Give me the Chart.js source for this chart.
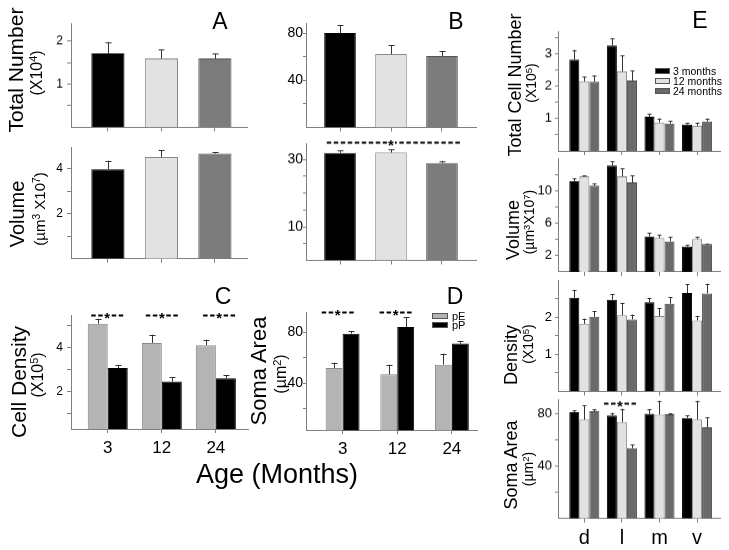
<!DOCTYPE html>
<html><head><meta charset="utf-8">
<script src="https://cdn.jsdelivr.net/npm/chart.js@4.4.1/dist/chart.umd.min.js"></script>
<style>
html,body{margin:0;padding:0;background:#fff;}
#fig{position:relative;width:729px;height:550px;overflow:hidden;font-family:'Liberation Sans',Arial,sans-serif;color:#000;}
.pan{position:absolute;z-index:1;}
.t{position:absolute;white-space:nowrap;line-height:1;transform:translate(-50%,-50%);z-index:2;}
.r{transform:translate(-50%,-50%) rotate(-90deg);}
.t sup{font-size:0.68em;vertical-align:0.45em;line-height:0;}
.lg{position:absolute;z-index:2;box-sizing:border-box;border:1px solid #555;}
</style></head>
<body><div id="fig"></div>
<script>
// ---------------- data ----------------
const ages = ['3', '12', '24'];
const regions = ['d', 'l', 'm', 'v'];
const seriesCD = ['pE', 'pP'];
const seriesE = ['3 months', '12 months', '24 months'];

// Panel A
const totalNumber = [1.72, 1.60, 1.60];
const totalNumberErr = [0.26, 0.21, 0.12];
const volumeA = [3.97, 4.51, 4.66];
const volumeAErr = [0.37, 0.29, 0.06];
// Panel B
const valuesBTop = [80, 62.2, 60.5];
const valuesBTopErr = [6.5, 7.6, 4.2];
const valuesBBottom = [31.9, 32.0, 28.9];
const valuesBBottomErr = [0.8, 1.0, 0.6];
// Panel C
const densityPE = [5.10, 4.22, 4.12];
const densityPEErr = [0.23, 0.38, 0.25];
const densityPP = [3.07, 2.45, 2.60];
const densityPPErr = [0.15, 0.20, 0.13];
// Panel D
const somaPE = [51.8, 46.8, 54.4];
const somaPEErr = [4.2, 7.6, 8.6];
const somaPP = [78.7, 83.9, 70.9];
const somaPPErr = [2.1, 7.9, 2.1];
// Panel E (rows: 3, 12, 24 months; columns: d, l, m, v)
const cellNumberE = [[2.82, 3.26, 1.06, 0.82], [2.15, 2.46, 0.88, 0.78], [2.14, 2.18, 0.85, 0.91]];
const cellNumberEErr = [[0.30, 0.22, 0.09, 0.04], [0.15, 0.49, 0.13, 0.08], [0.18, 0.30, 0.08, 0.09]];
const volumeE = [[11.23, 13.2, 4.4, 3.15], [11.85, 11.85, 4.2, 4.07], [10.7, 11.1, 3.78, 3.45]];
const volumeEErr = [[0.37, 0.5, 0.4, 0.21], [0.12, 0.95, 0.4, 0.23], [0.25, 0.87, 0.52, 0.05]];
const densityE = [[2.52, 2.47, 2.40, 2.65], [1.82, 2.05, 2.03, 1.91], [2.01, 1.94, 2.36, 2.64]];
const densityEErr = [[0.20, 0.14, 0.12, 0.23], [0.14, 0.34, 0.22, 0.12], [0.15, 0.13, 0.18, 0.26]];
const somaE = [[81, 78.5, 79.8, 76.7], [75.4, 73.5, 79.2, 75.4], [81.8, 53.6, 79.5, 69.5]];
const somaEErr = [[1.5, 2.0, 3.2, 1.8], [10.8, 10.1, 10.6, 14.4], [1.2, 2.6, 0.5, 7.7]];

// Tick values and which of them carry labels
const ticksA1 = [0.5, 1, 1.5, 2], labelsA1 = [1, 2];
const ticksA2 = [1, 2, 3, 4], labelsA2 = [2, 4];
const ticksB1 = [20, 40, 60, 80], labelsB1 = [40, 80];
const ticksB2 = [5, 10, 15, 20, 25, 30], labelsB2 = [10, 30];
const ticksC = [1, 2, 3, 4, 5], labelsC = [2, 4];
const ticksD = [20, 40, 60, 80], labelsD = [40, 80];
const ticksE1 = [0.5, 1, 1.5, 2, 2.5, 3, 3.5], labelsE1 = [1, 2, 3];
const ticksE2 = [2, 4, 6, 8, 10, 12], labelsE2 = [2, 6, 10];
const ticksE3 = [0.5, 1, 1.5, 2, 2.5], labelsE3 = [1, 2];
const ticksE4 = [20, 40, 60, 80], labelsE4 = [40, 80];

// ---------------- styles ----------------
const FONT = "'Liberation Sans', Arial, sans-serif";
Chart.defaults.font.family = FONT;
const AX = '#808080';
const BLACK = '#000000', LIGHT = '#e2e2e2', DARK = '#7c7c7c', MID = '#b4b4b4', DARKE = '#6a6a6a';

// ---------------- plugins ----------------
const errPlugin = {
  id: 'errbars',
  afterDatasetsDraw(chart, args, o) {
    const ctx = chart.ctx, ys = chart.scales.y;
    chart.data.datasets.forEach((ds, di) => {
      if (!ds.errors) return;
      const meta = chart.getDatasetMeta(di);
      meta.data.forEach((bar, i) => {
        const v = ds.data[i].y, e = ds.errors[i];
        const yt = ys.getPixelForValue(v + e);
        const bx = Math.round(bar.x) + 0.5;
        ctx.save();
        ctx.strokeStyle = '#333'; ctx.lineWidth = 1;
        ctx.beginPath();
        ctx.moveTo(bx, bar.y);
        ctx.lineTo(bx, yt);
        ctx.moveTo(bx - o.cap, Math.round(yt) + 0.5);
        ctx.lineTo(bx + o.cap, Math.round(yt) + 0.5);
        ctx.stroke();
        ctx.restore();
      });
    });
  }
};
const sigPlugin = {
  id: 'sig',
  afterDatasetsDraw(chart, args, o) {
    if (!o.items || !o.items.length) return;
    const ctx = chart.ctx, xs = chart.scales.x, ys = chart.scales.y;
    ctx.save();
    ctx.strokeStyle = '#000'; ctx.fillStyle = '#000'; ctx.lineWidth = 1.8;
    o.items.forEach(it => {
      const cx = xs.getPixelForValue(it.x), cy = Math.round(ys.getPixelForValue(it.y)) + 0.5;
      const x1 = (it.x1 !== undefined) ? xs.getPixelForValue(it.x1) : cx - o.half;
      const x2 = (it.x2 !== undefined) ? xs.getPixelForValue(it.x2) : cx + o.half;
      ctx.setLineDash([4.5, 2.5]);
      ctx.beginPath();
      ctx.moveTo(x1, cy); ctx.lineTo(cx - o.gap, cy);
      ctx.moveTo(x2, cy); ctx.lineTo(cx + o.gap, cy);
      ctx.stroke();
      ctx.setLineDash([]);
      ctx.font = 'bold 15px ' + FONT;
      ctx.textAlign = 'center'; ctx.textBaseline = 'middle';
      ctx.fillText('*', cx, cy + 3);
    });
    ctx.restore();
  }
};

const fig = document.getElementById('fig');

function bar(label, values, errors, color, border) {
  return {
    label: label,
    data: values.map((v, i) => ({ x: i + 1, y: v })),
    errors: errors,
    backgroundColor: color,
    borderColor: border,
    borderWidth: 1,
    borderSkipped: 'bottom'
  };
}

function panel(o) {
  const yW = 50, padT = 22, padR = 8;
  const xH = o.xLabels ? 34 : 10;
  const div = document.createElement('div');
  div.className = 'pan';
  div.style.left = (o.L - yW) + 'px';
  div.style.top = (o.T - padT) + 'px';
  div.style.width = (yW + o.R - o.L + padR) + 'px';
  div.style.height = (padT + o.B - o.T + xH) + 'px';
  const cv = document.createElement('canvas');
  div.appendChild(cv);
  fig.appendChild(div);
  const nX = o.nX;
  const xTickVals = Array.from({ length: nX }, (_, i) => i + 1);
  new Chart(cv, {
    type: 'bar',
    data: { datasets: o.datasets },
    options: {
      responsive: true, maintainAspectRatio: false, animation: false,
      devicePixelRatio: 1, events: [],
      layout: { padding: { top: padT, right: padR, left: 0, bottom: 0 } },
      datasets: { bar: { barPercentage: o.barPct, categoryPercentage: o.catPct } },
      plugins: {
        legend: { display: false }, tooltip: { enabled: false },
        errbars: { cap: o.cap },
        sig: { items: o.sig || [], half: o.sigHalf || 16, gap: 4 }
      },
      scales: {
        x: {
          type: 'linear', min: o.xMin, max: o.xMax, bounds: 'data', offset: false,
          afterFit(s) { s.height = xH; },
          afterBuildTicks(s) { s.ticks = xTickVals.map(v => ({ value: v })); },
          grid: { offset: false, drawOnChartArea: false, drawTicks: true, tickLength: 4, color: AX },
          border: { display: true, color: AX, width: 1 },
          ticks: {
            callback: (v, i) => o.xLabels ? o.xLabels[i] : '',
            font: { size: o.xFont || 17 }, color: '#000', padding: o.xPad || 4,
            maxRotation: 0, autoSkip: false
          }
        },
        y: {
          type: 'linear', min: o.yMin, max: o.yMax, bounds: 'data',
          afterFit(s) { s.width = yW; },
          afterBuildTicks(s) { s.ticks = o.yTicks.map(v => ({ value: v })); },
          grid: { drawOnChartArea: false, drawTicks: true, tickLength: o.tl || 4, color: AX },
          border: { display: true, color: AX, width: 1 },
          ticks: {
            callback: (v) => o.yLabels.includes(v) ? String(v) : '',
            font: { size: o.yFont }, color: '#000', padding: o.yPad,
            autoSkip: false
          }
        }
      }
    },
    plugins: [errPlugin, sigPlugin]
  });
}

// ---------------- panels ----------------
const abColors = [BLACK, LIGHT, DARK];
const abBorders = ['#000', '#888', '#555'];

panel({ L: 71, R: 247, T: 23, B: 127.5, yMin: 0, yMax: 2.42, xMin: 0.31, xMax: 3.6, nX: 3,
  yTicks: ticksA1, yLabels: labelsA1, yFont: 12, yPad: 4, barPct: 0.62, catPct: 1, cap: 3,
  datasets: [bar('Total Number', totalNumber, totalNumberErr, abColors, abBorders)] });
panel({ L: 71, R: 247, T: 147, B: 260, yMin: 0, yMax: 4.95, xMin: 0.31, xMax: 3.6, nX: 3,
  yTicks: ticksA2, yLabels: labelsA2, yFont: 12, yPad: 4, barPct: 0.62, catPct: 1, cap: 3,
  datasets: [bar('Volume', volumeA, volumeAErr, abColors, abBorders)] });
panel({ L: 306, R: 476, T: 22.7, B: 127.3, yMin: 0, yMax: 88.5, xMin: 0.333, xMax: 3.667, nX: 3,
  yTicks: ticksB1, yLabels: labelsB1, yFont: 14, yPad: 0, tl: 3, barPct: 0.62, catPct: 1, cap: 3,
  datasets: [bar('B top', valuesBTop, valuesBTopErr, abColors, abBorders)] });
panel({ L: 306, R: 476, T: 143, B: 259.5, yMin: 0, yMax: 34.8, xMin: 0.333, xMax: 3.667, nX: 3,
  yTicks: ticksB2, yLabels: labelsB2, yFont: 14, yPad: 0, tl: 3, barPct: 0.62, catPct: 1, cap: 3,
  sig: [{ x: 2, y: 35.2, x1: 0.74, x2: 3.35 }],
  datasets: [bar('B bottom', valuesBBottom, valuesBBottomErr, abColors, abBorders)] });
panel({ L: 70.7, R: 248, T: 315, B: 429, yMin: 0.28, yMax: 5.5, xMin: 0.32, xMax: 3.6, nX: 3,
  yTicks: ticksC, yLabels: labelsC, yFont: 12, yPad: 4, barPct: 1, catPct: 0.74, cap: 3,
  xLabels: ages, xFont: 17, xPad: 5,
  sig: [{ x: 0.99, y: 5.5 }, { x: 2, y: 5.5 }, { x: 3.06, y: 5.5 }],
  datasets: [bar(seriesCD[0], densityPE, densityPEErr, MID, '#888'), bar(seriesCD[1], densityPP, densityPPErr, BLACK, '#000')] });
panel({ L: 305.7, R: 476.7, T: 311.7, B: 430, yMin: 2.9, yMax: 95.7, xMin: 0.33, xMax: 3.46, nX: 3,
  yTicks: ticksD, yLabels: labelsD, yFont: 14, yPad: 0, tl: 3, barPct: 1, catPct: 0.62, cap: 3,
  xLabels: ages, xFont: 17, xPad: 5,
  sig: [{ x: 0.91, y: 95.7 }, { x: 1.97, y: 95.7 }],
  datasets: [bar(seriesCD[0], somaPE, somaPEErr, MID, '#888'), bar(seriesCD[1], somaPP, somaPPErr, BLACK, '#000')] });

const eColors = [BLACK, LIGHT, DARKE], eBorders = ['#000', '#888', '#444'];
function eSets(vals, errs) { return seriesE.map((s, k) => bar(s, vals[k], errs[k], eColors[k], eBorders[k])); }
const eCommon = { L: 558, R: 720, xMin: 0.30, xMax: 4.61, nX: 4, yFont: 13, yPad: 3, tl: 3, barPct: 1, catPct: 0.8, cap: 2 };
panel(Object.assign({}, eCommon, { T: 31, B: 150.8, yMin: 0, yMax: 3.7, yTicks: ticksE1, yLabels: labelsE1,
  datasets: eSets(cellNumberE, cellNumberEErr) }));
panel(Object.assign({}, eCommon, { T: 158.3, B: 272, yMin: 0, yMax: 14.1, yTicks: ticksE2, yLabels: labelsE2,
  datasets: eSets(volumeE, volumeEErr) }));
panel(Object.assign({}, eCommon, { T: 280, B: 392.3, yMin: 0, yMax: 3.0, yTicks: ticksE3, yLabels: labelsE3,
  datasets: eSets(densityE, densityEErr) }));
panel(Object.assign({}, eCommon, { T: 399.3, B: 518, yMin: 0, yMax: 91, yTicks: ticksE4, yLabels: labelsE4,
  xLabels: regions, xFont: 20, xPad: 4,
  sig: [{ x: 1.95, y: 88.2 }],
  datasets: eSets(somaE, somaEErr) }));

// ---------------- text ----------------
const texts = [
  { h: 'A', x: 220, y: 21, s: 23 }, { h: 'B', x: 456, y: 21, s: 23 },
  { h: 'C', x: 223, y: 296, s: 23 }, { h: 'D', x: 455, y: 296, s: 23 }, { h: 'E', x: 700, y: 20, s: 23 },
  { h: 'Total Number', x: 15, y: 70, s: 21, r: 1 },
  { h: '(X10<sup>4</sup>)', x: 37, y: 73, s: 16, r: 1 },
  { h: 'Volume', x: 17, y: 214, s: 20, r: 1 },
  { h: '(µm<sup>3</sup> X10<sup>7</sup>)', x: 39, y: 209, s: 15, r: 1 },
  { h: 'Cell Density', x: 18, y: 382, s: 21, r: 1 },
  { h: '(X10<sup>5</sup>)', x: 38, y: 375, s: 16, r: 1 },
  { h: 'Soma Area', x: 259, y: 371, s: 22, r: 1 },
  { h: '(µm<sup>2</sup>)', x: 281, y: 374, s: 16, r: 1 },
  { h: 'Total Cell Number', x: 515, y: 85, s: 18, r: 1 },
  { h: '(X10<sup>5</sup>)', x: 531, y: 83, s: 14, r: 1 },
  { h: 'Volume', x: 513, y: 230, s: 18, r: 1 },
  { h: '(µm<sup>3</sup>X10<sup>7</sup>)', x: 529, y: 222, s: 14, r: 1 },
  { h: 'Density', x: 511, y: 355, s: 18, r: 1 },
  { h: '(X10<sup>5</sup>)', x: 528, y: 344, s: 14, r: 1 },
  { h: 'Soma Area', x: 511, y: 465, s: 18, r: 1 },
  { h: '(µm<sup>2</sup>)', x: 528, y: 469, s: 14, r: 1 },
  { h: 'Age (Months)', x: 277, y: 474, s: 27 }
];
texts.forEach(t => {
  const d = document.createElement('div');
  d.className = 't' + (t.r ? ' r' : '');
  d.style.left = t.x + 'px'; d.style.top = t.y + 'px'; d.style.fontSize = t.s + 'px';
  d.innerHTML = t.h;
  fig.appendChild(d);
});

// legends
function legendItem(x, y, w, h, color, label, tx, fs) {
  const b = document.createElement('div');
  b.className = 'lg';
  b.style.left = x + 'px'; b.style.top = y + 'px'; b.style.width = w + 'px'; b.style.height = h + 'px';
  b.style.background = color;
  fig.appendChild(b);
  const t = document.createElement('div');
  t.className = 't';
  t.style.transform = 'translate(0,-50%)';
  t.style.left = tx + 'px'; t.style.top = (y + h / 2) + 'px'; t.style.fontSize = fs + 'px';
  t.textContent = label;
  fig.appendChild(t);
}
legendItem(432, 313, 16, 6, MID, seriesCD[0], 452, 11);
legendItem(432, 322, 16, 6, BLACK, seriesCD[1], 452, 11);
seriesE.forEach((s, k) => legendItem(655, 68 + k * 10, 15, 6, eColors[k], s, 673, 10.5));
</script>
</body></html>
